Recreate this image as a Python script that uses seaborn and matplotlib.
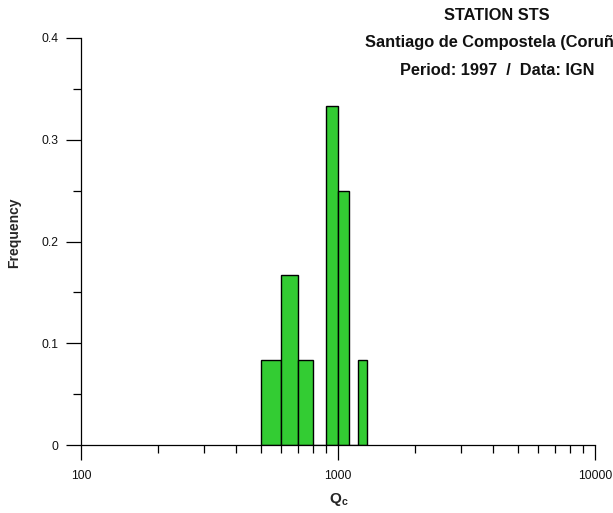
import numpy as np
import pandas as pd
import matplotlib
matplotlib.use("Agg")
import matplotlib.pyplot as plt
import matplotlib.ticker as mticker
import seaborn as sns

# ---- data ----
bin_edges = [500, 600, 700, 800, 900, 1000, 1100, 1200, 1300]
frequencies = [1/12, 2/12, 1/12, 0.0, 4/12, 3/12, 0.0, 1/12]
x_ticks = [100, 1000, 10000]
x_tick_labels = ["100", "1000", "10000"]
y_ticks = [0, 0.1, 0.2, 0.3, 0.4]
y_tick_labels = ["0", "0.1", "0.2", "0.3", "0.4"]
title_lines = ["STATION STS", "Santiago de Compostela (Coruña)", "Period: 1997  /  Data: IGN"]

sns.set_theme(style="ticks")
plt.rcParams['font.family'] = ['Liberation Sans', 'DejaVu Sans']
plt.rcParams['mathtext.fontset'] = 'custom'
plt.rcParams['mathtext.rm'] = 'Liberation Sans'
plt.rcParams['mathtext.bf'] = 'Liberation Sans:bold'

W, H = 613, 513
fig = plt.figure(figsize=(W / 100, H / 100), dpi=100)
ax = fig.add_axes([81 / W, 1 - 445 / H, (595 - 81) / W, (445 - 38) / H])

edges = np.array(bin_edges, dtype=float)
centers = np.sqrt(edges[:-1] * edges[1:])
df = pd.DataFrame({"Qc": centers, "freq": frequencies})

sns.histplot(data=df, x="Qc", weights="freq", bins=[float(v) for v in np.log10(edges)],
             log_scale=True, stat="count", color="#33CC33", alpha=1,
             edgecolor="black", linewidth=1.0, ax=ax)

ax.set_xlim(100, 10000)
ax.set_ylim(0, 0.4)
ax.set_xticks(x_ticks)
ax.set_xticklabels(x_tick_labels)
ax.xaxis.set_minor_locator(mticker.LogLocator(base=10, subs=np.arange(2, 10)))
ax.xaxis.set_minor_formatter(mticker.NullFormatter())
ax.set_yticks(y_ticks)
ax.set_yticklabels(y_tick_labels)
ax.yaxis.set_minor_locator(mticker.MultipleLocator(0.05))

for s in ["top", "right"]:
    ax.spines[s].set_visible(False)
for s in ["left", "bottom"]:
    ax.spines[s].set_linewidth(0.9)
    ax.spines[s].set_color("black")

ax.tick_params(axis="both", which="major", direction="out", length=10.8, width=0.9,
               color="black", labelsize=8.7, labelcolor="#111111")
ax.tick_params(axis="both", which="minor", direction="out", length=5.8, width=0.9,
               color="black")
ax.tick_params(axis="x", which="major", pad=7)
ax.tick_params(axis="y", which="major", pad=5.5)

ax.set_xlabel("")
ax.set_ylabel("")
fig.text(339 / W, 1 - 499 / H, r"$\mathbf{Q}_{\mathbf{c}}$", ha="center", va="center",
         fontsize=11)
fig.text(14 / W, 1 - 233 / H, "Frequency", rotation=90, ha="center", va="center",
         fontsize=10, fontweight="bold")

line_y = [16, 43, 71]
for txt, yy in zip(title_lines, line_y):
    fig.text(497 / W, 1 - yy / H, txt, ha="center", va="center",
             fontsize=11.8, fontweight="bold", color="#111111")

fig.savefig("out.png", dpi=100)
